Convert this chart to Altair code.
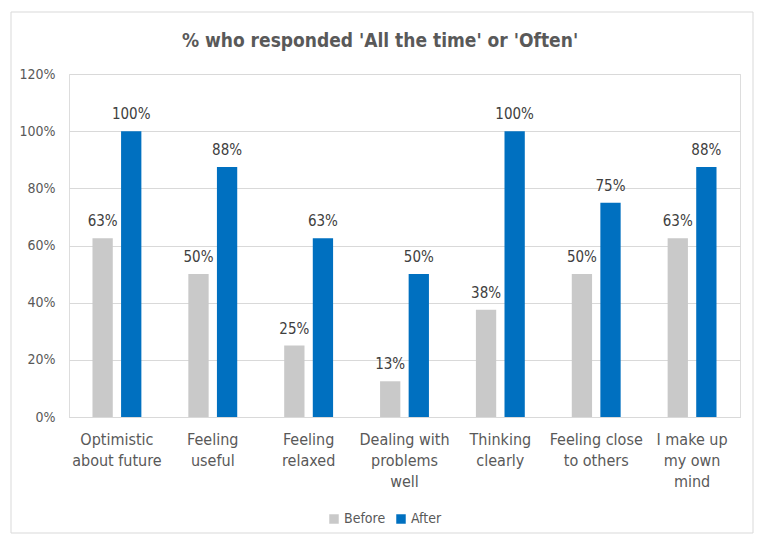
import altair as alt
import pandas as pd

categories = ["Optimistic|about future", "Feeling|useful", "Feeling|relaxed",
              "Dealing with|problems|well", "Thinking|clearly", "Feeling close|to others",
              "I make up|my own|mind"]
before = [0.625, 0.50, 0.25, 0.125, 0.375, 0.50, 0.625]
after = [1.00, 0.875, 0.625, 0.50, 1.00, 0.75, 0.875]
series = ["Before", "After"]
colors = ["#C9C9C9", "#0070C0"]
y_ticks = [0, 0.2, 0.4, 0.6, 0.8, 1.0, 1.2]
title_text = "% who responded 'All the time' or 'Often'"

rows = []
for c, b, a in zip(categories, before, after):
    rows.append({"cat": c, "series": "Before", "value": b})
    rows.append({"cat": c, "series": "After", "value": a})
df = pd.DataFrame(rows)

FONT = "Liberation Sans Narrow, DejaVu Sans Condensed, Lato"

x = alt.X("cat:N", sort=categories, title=None,
          scale=alt.Scale(paddingInner=0.49, paddingOuter=0.245),
          axis=alt.Axis(labelExpr="split(datum.label, '|')", labelAngle=0,
                        labelFontSize=16, labelColor="#595959", labelFont=FONT,
                        labelLineHeight=21, labelPadding=14, ticks=False,
                        domainColor="#D9D9D9", labelBaseline="top"))
y = alt.Y("value:Q", title=None,
          scale=alt.Scale(domain=[0, 1.2], nice=False),
          axis=alt.Axis(format=".0%", values=y_ticks, labelFontSize=14,
                        labelColor="#595959", labelFont=FONT, labelPadding=14,
                        ticks=False, domain=False, gridColor="#D9D9D9"))
xo = alt.XOffset("series:N", sort=series,
                 scale=alt.Scale(paddingInner=0.29, paddingOuter=0))

bars = alt.Chart(df).mark_bar().encode(
    x=x, y=y, xOffset=xo,
    color=alt.Color("series:N", sort=series,
                    scale=alt.Scale(domain=series, range=colors),
                    legend=alt.Legend(title=None, orient="none", direction="horizontal",
                                      legendX=258, legendY=95 + 343, symbolType="square",
                                      symbolSize=90, symbolStrokeWidth=0,
                                      labelFontSize=14, labelColor="#595959",
                                      labelFont=FONT, columnPadding=8, symbolOffset=0,
                                      labelOffset=3)),
)

labels = alt.Chart(df).mark_text(baseline="bottom", dy=-9, fontSize=15,
                                 color="#404040", font=FONT).encode(
    x=alt.X("cat:N", sort=categories), y="value:Q", xOffset=xo,
    text=alt.Text("value:Q", format=".0%"),
)

border = alt.Chart(pd.DataFrame({"a": [0]})).mark_rect(
    fill=None, stroke="#D9D9D9", strokeWidth=1).encode(
    x=alt.value(-58), x2=alt.value(684), y=alt.value(-62), y2=alt.value(459))

title = alt.Chart(pd.DataFrame({"a": [0]})).mark_text(
    text=title_text, fontSize=19, font=FONT, fontWeight="bold",
    color="#595959", align="center", baseline="alphabetic").encode(
    x=alt.value(311), y=alt.value(-27))

chart = alt.layer(border, title, bars, labels).properties(
    width=671, height=343,
    padding={"left": 69, "top": 74, "right": 18, "bottom": 118},
    autosize=alt.AutoSizeParams(type="none"),
).configure_view(stroke=None).configure(background="white")

chart.save("out.html", embed_options={"renderer": "svg", "actions": False})
